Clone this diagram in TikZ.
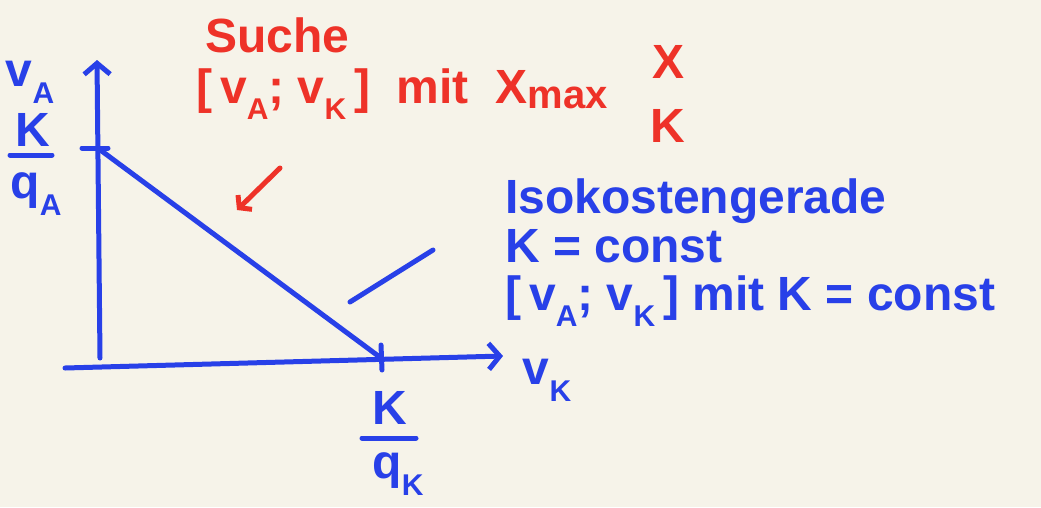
\documentclass[tikz,border=0pt]{standalone}
\usepackage{fontspec}
\setmainfont{Liberation Sans}
\usetikzlibrary{arrows.meta}
\definecolor{paper}{RGB}{246,243,233}
\definecolor{blueink}{RGB}{40,64,232}
\definecolor{redink}{RGB}{238,50,40}
\newcommand{\lowidx}[1]{\raisebox{-0.35em}{\fontsize{30}{30}\selectfont #1}}
\newcommand{\maxidx}[1]{\raisebox{-0.12em}{\fontsize{40}{40}\selectfont #1}}
\tikzset{
  ink/.style={line width=5pt, line cap=round, line join=round},
  bink/.style={ink, draw=blueink},
  rink/.style={ink, draw=redink},
  tip/.style={-{Straight Barb[length=11pt,width=26pt,line width=5pt]}},
  btxt/.style={text=blueink, font=\bfseries\fontsize{48}{48}\selectfont, inner sep=0pt},
  rtxt/.style={text=redink, font=\bfseries\fontsize{48}{48}\selectfont, inner sep=0pt},
}
\begin{document}
\begin{tikzpicture}[x=1pt,y=-1pt]
\fill[paper] (0,0) rectangle (1041,507);
\useasboundingbox (0,0) rectangle (1041,507);
% axes
\coordinate (yb) at (100,358);
\coordinate (yt) at (97,60);
\coordinate (xl) at (65,368);
\coordinate (xr) at (503,356);
\draw[bink,tip] (yb) -- (yt);
\draw[bink,tip] (xl) -- (xr);
% ticks
\coordinate (ta1) at (82,148);
\coordinate (ta2) at (108,148);
\draw[bink] (ta1) -- (ta2);
\coordinate (tk1) at (381,345);
\coordinate (tk2) at (382,370);
\draw[bink] (tk1) -- (tk2);
% isocost line
\coordinate (pa) at (99,149);
\coordinate (pk) at (381,358);
\draw[bink] (pa) -- (pk);
% short blue stroke
\coordinate (s1) at (350,302);
\coordinate (s2) at (433,250);
\draw[bink] (s1) -- (s2);
% red arrow
\coordinate (r1) at (280,168);
\coordinate (r2) at (237,210);
\draw[rink,-{Straight Barb[length=8pt,width=20pt,line width=5pt]}] (r1) -- (r2);
% axis labels
\node[btxt] (vA) at (30,82) {v\lowidx{A}};
\node[btxt] (KA) at (33,130) {K};
\coordinate (ba1) at (10,155);
\coordinate (ba2) at (52,155);
\draw[bink] (ba1) -- (ba2);
\node[btxt] (qA) at (36,194) {q\lowidx{A}};
\node[btxt] (vK) at (547,380) {v\lowidx{K}};
\node[btxt] (KK) at (390,408) {K};
\coordinate (bk1) at (362,438);
\coordinate (bk2) at (416,438);
\draw[bink] (bk1) -- (bk2);
\node[btxt] (qK) at (398,474) {q\lowidx{K}};
% red text
\node[rtxt,anchor=base west] (such) at (205,52) {Suche};
\node[rtxt,anchor=base west] (find) at (196,103) {[\,v\lowidx{A}; v\lowidx{K}\,]\ \ mit\ \ X\maxidx{max}};
\node[rtxt] (rX) at (668,62) {X};
\node[rtxt] (rK) at (668,126) {K};
% blue text
\node[btxt,anchor=base west] (iso) at (505,213) {Isokostengerade};
\node[btxt,anchor=base west] (kc) at (505,262) {K = const};
\node[btxt,anchor=base west] (kv) at (505,310) {[\,v\lowidx{A}; v\lowidx{K}\,]\ mit\ K = const};
\end{tikzpicture}
\end{document}
